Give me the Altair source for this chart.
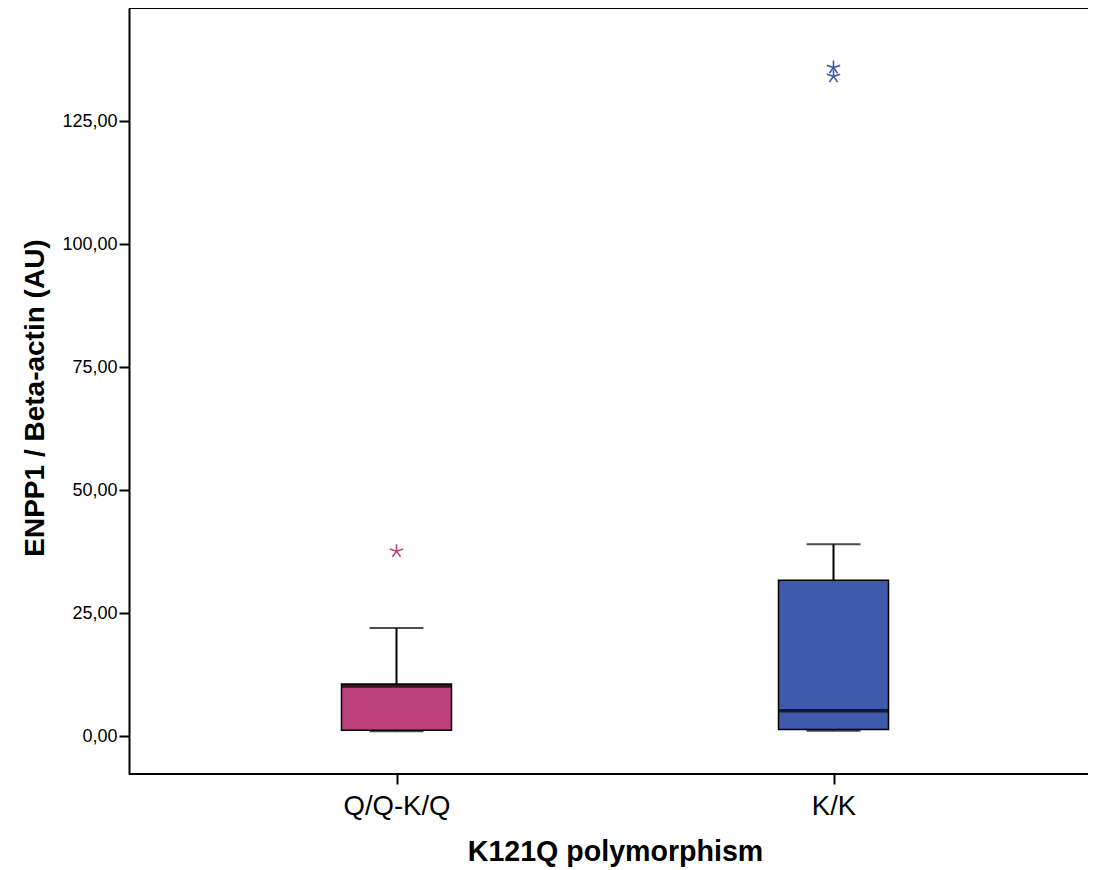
import altair as alt
import pandas as pd

groups = ["Q/Q-K/Q", "K/K"]
colors = ["#BB407C", "#3E5AAC"]
q1 = [1.2, 1.35]
median = [10.2, 5.15]
q3 = [10.6, 31.7]
whisker_low = [1.0, 1.1]
whisker_high = [22.0, 39.0]
outlier_group = ["Q/Q-K/Q", "K/K", "K/K"]
outlier_value = [37.6, 135.9, 134.1]

W = 959
H = 766

box_df = pd.DataFrame({
    "group": groups, "q1": q1, "median": median, "q3": q3,
    "lo": whisker_low, "hi": whisker_high,
})
out_df = pd.DataFrame({"group": outlier_group, "value": outlier_value})

FONT = "Liberation Sans"

x_enc = alt.X(
    "group:N",
    sort=groups,
    scale=alt.Scale(type="point", range=[267.5, 704.5], padding=0),
    axis=alt.Axis(
        title="K121Q polymorphism", labelFontSize=27.5, labelFont=FONT,
        labelColor="black", labelAngle=0, labelPadding=8,
        tickSize=10, tickWidth=2, tickColor="black",
        domain=False,
        titleFontSize=28.6, titleFont=FONT, titleFontWeight="bold",
        titleColor="black", titleBaseline="alphabetic", titleY=86,
        titleX=486, titleAlign="center",
    ),
)
y_scale = alt.Scale(domain=[-7.7, 148], nice=False, zero=False)
y_axis = alt.Axis(
    title="ENPP1 / Beta-actin (AU)",
    values=[0, 25, 50, 75, 100, 125],
    labelExpr="replace(format(datum.value, '.2f'), '.', ',')",
    labelFontSize=18, labelFont=FONT, labelColor="black", labelPadding=2,
    tickSize=10, tickWidth=2, tickColor="black",
    domainColor="black", domainWidth=2, grid=False,
    titleFontSize=28, titleFont=FONT, titleFontWeight="bold",
    titleColor="black", titleAngle=270, titleBaseline="alphabetic",
    titleX=-86, titleY=389.5, titleAlign="center",
)
color_enc = alt.Color("group:N", scale=alt.Scale(domain=groups, range=colors), legend=None)

base = alt.Chart(box_df)

boxes = base.mark_bar(size=110, stroke="black", strokeWidth=1.5).encode(
    x=x_enc,
    y=alt.Y("q1:Q", scale=y_scale, axis=y_axis),
    y2="q3:Q",
    color=color_enc,
)
upper = base.mark_rule(color="black", strokeWidth=2).encode(
    x=alt.X("group:N", sort=groups), y="q3:Q", y2="hi:Q")
lower = base.mark_rule(color="black", strokeWidth=2).encode(
    x=alt.X("group:N", sort=groups), y="lo:Q", y2="q1:Q")
cap_hi = base.mark_tick(size=54, thickness=2, color="black").encode(
    x=alt.X("group:N", sort=groups), y="hi:Q")
cap_lo = base.mark_tick(size=54, thickness=2, color="black").encode(
    x=alt.X("group:N", sort=groups), y="lo:Q")
med = base.mark_tick(size=110, thickness=3.5, color="black").encode(
    x=alt.X("group:N", sort=groups), y="median:Q")

star = "M0,0L0,-1M0,0L0.951,-0.309M0,0L-0.951,-0.309M0,0L0.588,0.809M0,0L-0.588,0.809"
outliers = alt.Chart(out_df).mark_point(
    shape=star, size=196, filled=False, strokeWidth=1.6, opacity=1
).encode(
    x=alt.X("group:N", sort=groups),
    y="value:Q",
    color=color_enc,
)

top = alt.Chart(box_df).mark_rule(color="black", strokeWidth=2).encode(
    x=alt.value(0), x2=alt.value(W), y=alt.value(0)
)
bottom = alt.Chart(box_df).mark_rule(color="black", strokeWidth=2).encode(
    x=alt.value(0), x2=alt.value(W), y=alt.value(H)
)

chart = alt.layer(boxes, upper, lower, cap_hi, cap_lo, med, outliers, top, bottom).properties(
    width=W, height=H,
    autosize=alt.AutoSizeParams(type="none"),
    padding={"left": 121, "top": 0, "right": 0, "bottom": 94},
    background="white",
).configure_view(stroke=None)

chart.save("out.html", embed_options={"renderer": "svg", "actions": False})
